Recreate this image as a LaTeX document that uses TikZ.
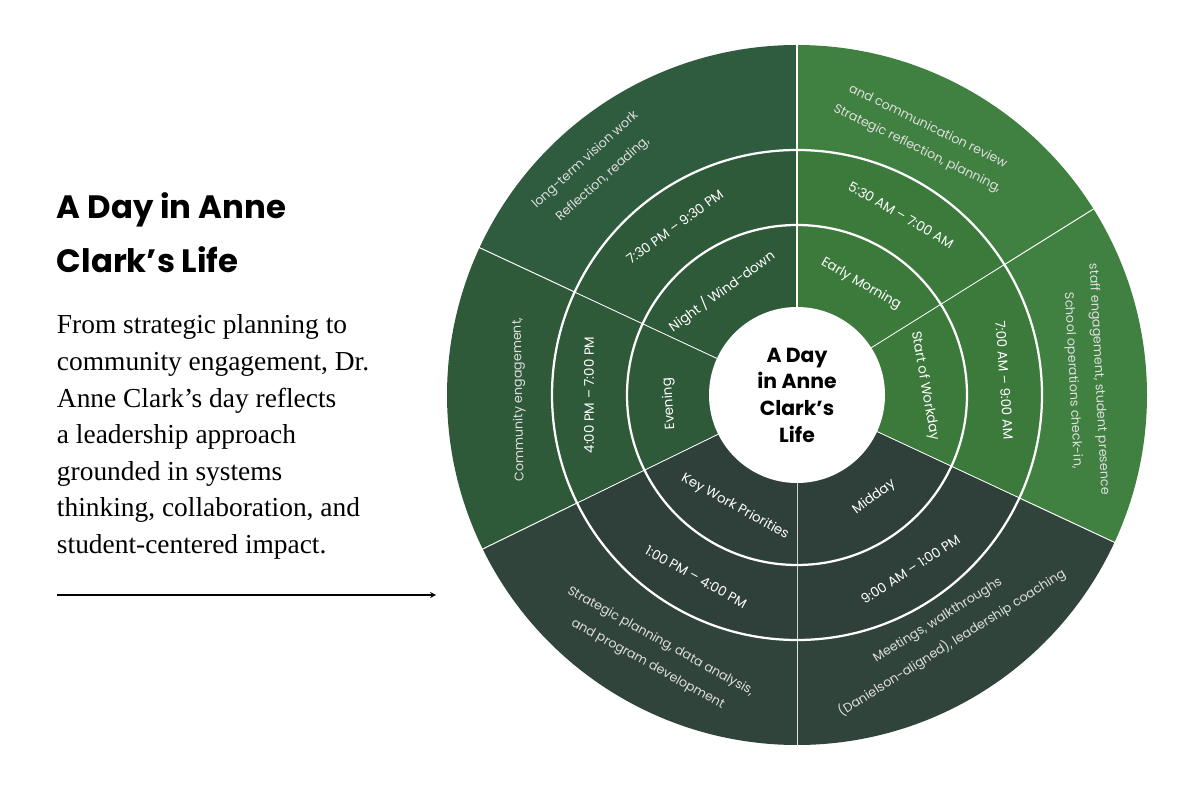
\documentclass[tikz,border=0pt]{standalone}
\usepackage{fontspec}
\setmainfont{Liberation Serif}
\newfontfamily\poppins{Poppins}
\usepackage{tikz}
\usetikzlibrary{calc}
\definecolor{greenA}{RGB}{60,122,60}
\definecolor{greenAo}{RGB}{64,128,64}
\definecolor{greenN}{RGB}{46,90,58}
\definecolor{greenNo}{RGB}{47,92,62}
\definecolor{slateM}{RGB}{47,64,58}
\definecolor{slateMo}{RGB}{48,68,60}
\tikzset{
  seglabel/.style={text=white,inner sep=1pt,font=\poppins\fontsize{9.5}{11}\selectfont},
  timelabel/.style={text=white,inner sep=1pt,font=\poppins\fontsize{9.5}{11}\selectfont},
  outerlabel/.style={text=white!75!gray,inner sep=1pt,font=\poppins\fontsize{9}{10}\selectfont},
  divider/.style={white,line width=1.6pt}
}
\begin{document}
\begin{tikzpicture}
\useasboundingbox (0,0) rectangle (30,20);
\coordinate (c) at (19.925,10.125);

% Wedges: start angle / end angle / inner colour / outer colour
\foreach \aa/\ab/\ci/\co in {32/90/greenA/greenAo, -25/32/greenA/greenAo,
    -90/-25/slateM/slateMo, 206/270/slateM/slateMo,
    155/206/greenN/greenN, 90/155/greenN/greenNo}{
  \fill[\co] (c) -- ++(\aa:8.75) arc[start angle=\aa,end angle=\ab,radius=8.75] -- cycle;
  \fill[\ci] (c) -- ++(\aa:6.125) arc[start angle=\aa,end angle=\ab,radius=6.125] -- cycle;
  \draw[divider] (c) -- ++(\aa:8.8);
}
% Rings
\draw[divider] (c) circle[radius=6.125];
\draw[divider] (c) circle[radius=4.25];
\fill[white] (c) circle[radius=2.2];

% Centre
\node[font=\poppins\bfseries\fontsize{14.5}{19}\selectfont,align=center] (hub) at (c) {A Day\\in Anne\\Clark’s\\Life};

% Segment names
\node[seglabel,rotate=-30] (early) at ($(c)+(60:3.2)$) {Early Morning};
\node[seglabel,rotate=-80] (start) at ($(c)+(4:3.2)$) {Start of Workday};
\node[seglabel,rotate=37] (mid) at ($(c)+(-53:3.2)$) {Midday};
\node[seglabel,rotate=-29] (keywork) at ($(c)+(241:3.2)$) {Key Work Priorities};
\node[seglabel,rotate=94] (evening) at ($(c)+(184:3.2)$) {Evening};
\node[seglabel,rotate=36] (night) at ($(c)+(126:3.2)$) {Night / Wind-down};

% Times
\node[timelabel,rotate=-30] (t1) at ($(c)+(60:5.2)$) {5:30 AM – 7:00 AM};
\node[timelabel,rotate=-86] (t2) at ($(c)+(4:5.2)$) {7:00 AM – 9:00 AM};
\node[timelabel,rotate=33] (t3) at ($(c)+(-57:5.2)$) {9:00 AM – 1:00 PM};
\node[timelabel,rotate=-29] (t4) at ($(c)+(241:5.2)$) {1:00 PM – 4:00 PM};
\node[timelabel,rotate=90] (t5) at ($(c)+(180:5.2)$) {4:00 PM – 7:00 PM};
\node[timelabel,rotate=36] (t6) at ($(c)+(126:5.2)$) {7:30 PM – 9:30 PM};

% Activities
\node[outerlabel,rotate=-26] (a1a) at ($(c)+(64:6.85)$) {Strategic reflection, planning,};
\node[outerlabel,rotate=-26] (a1b) at ($(c)+(64:7.5)$) {and communication review};
\node[outerlabel,rotate=-87] (a2a) at ($(c)+(3:6.9)$) {School operations check-in,};
\node[outerlabel,rotate=-87] (a2b) at ($(c)+(3:7.55)$) {staff engagement, student presence};
\node[outerlabel,rotate=32] (a3a) at ($(c)+(-58:6.65)$) {Meetings, walkthroughs};
\node[outerlabel,rotate=32] (a3b) at ($(c)+(-58:7.3)$) {(Danielson-aligned), leadership coaching};
\node[outerlabel,rotate=-29] (a4a) at ($(c)+(241:7.05)$) {Strategic planning, data analysis,};
\node[outerlabel,rotate=-29] (a4b) at ($(c)+(241:7.7)$) {and program development};
\node[outerlabel,rotate=91] (a5) at ($(c)+(181:6.95)$) {Community engagement,};
\node[outerlabel,rotate=42] (a6a) at ($(c)+(132:7.25)$) {Reflection, reading,};
\node[outerlabel,rotate=42] (a6b) at ($(c)+(132:7.9)$) {long-term vision work};

% Left text
\node[anchor=north west,align=left,font=\poppins\bfseries\fontsize{23}{38}\selectfont] (title) at (1.3,15.3) {A Day in Anne\\Clark’s Life};
\node[anchor=north west,align=left,font=\fontsize{19.5}{26}\selectfont] (intro) at (1.3,12.25)
  {From strategic planning to\\community engagement, Dr.\\Anne Clark’s day reflects\\a leadership approach\\grounded in systems\\thinking, collaboration, and\\student-centered impact.};
\coordinate (arrowstart) at (1.425,5.125);
\coordinate (arrowend) at (10.9,5.125);
\draw[-stealth,line width=0.9pt] (arrowstart) -- (arrowend);
\end{tikzpicture}
\end{document}
